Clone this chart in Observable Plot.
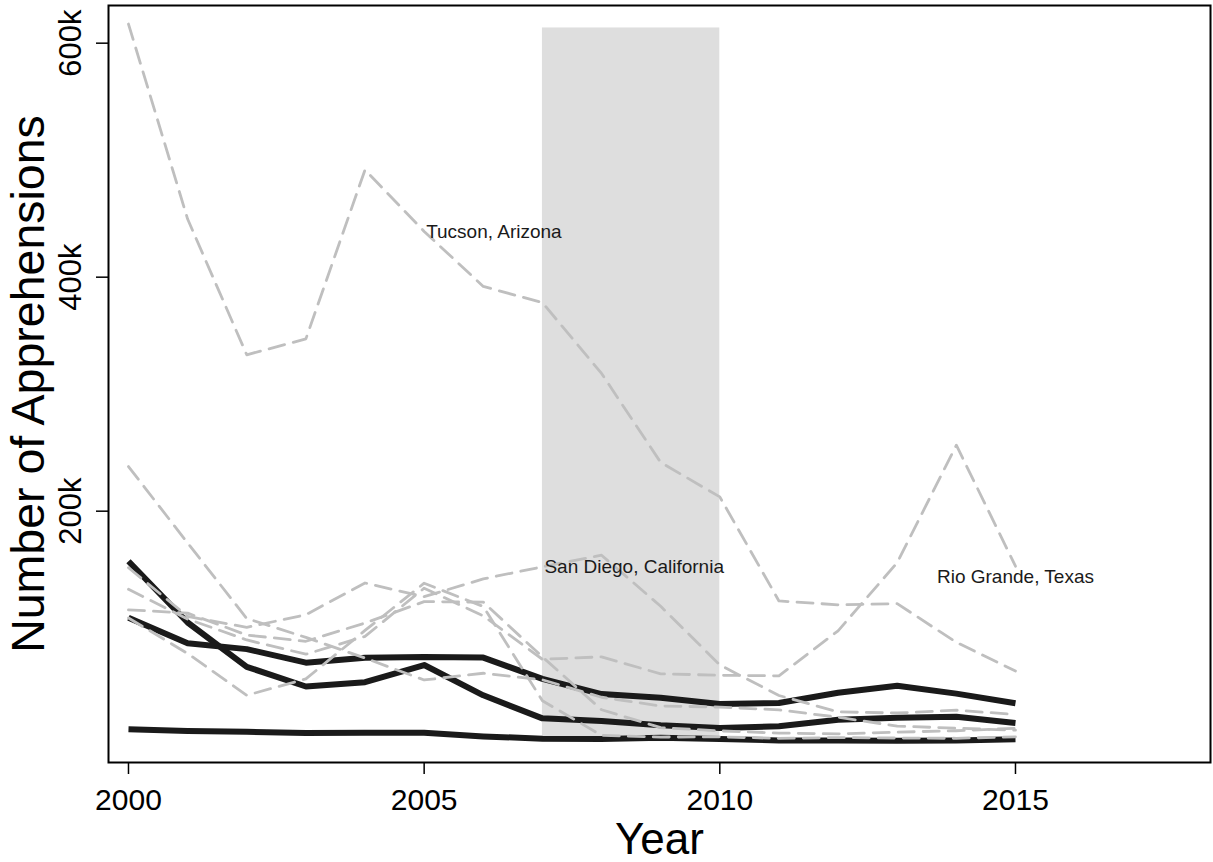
<!DOCTYPE html>
<html>
<head>
<meta charset="utf-8">
<script src="https://cdn.jsdelivr.net/npm/d3@7"></script>
<script src="https://cdn.jsdelivr.net/npm/@observablehq/plot@0.6"></script>
<style>
  html, body { margin: 0; padding: 0; background: #fff; }
  #chart svg { display: block; }
</style>
</head>
<body>
<div id="chart"></div>
<script>
// Border Patrol apprehensions by sector, fiscal years 2000–2015
const years = [2000, 2001, 2002, 2003, 2004, 2005, 2006, 2007, 2008, 2009, 2010, 2011, 2012, 2013, 2014, 2015];

// Sectors drawn as solid black lines
const delRio  = [157178, 104875, 66985, 50145, 53794, 68510, 42634, 22920, 20761, 17082, 14694, 16144, 21720, 23510, 24255, 19013];
const laredo  = [108973, 87068, 82095, 70521, 74706, 75342, 74843, 56715, 43659, 40571, 35287, 36053, 44872, 50749, 44049, 35888];
const bigBend = [13689, 12087, 11392, 10319, 10530, 10536, 7517, 5536, 5390, 6357, 5288, 4036, 3964, 3684, 4096, 5031];

// Sectors drawn as grey dashed lines
const sanDiego  = [151681, 110075, 100681, 111515, 138608, 126909, 142122, 152460, 162390, 118721, 68565, 42447, 28461, 27496, 29911, 26290];
const elCentro  = [238126, 172852, 108273, 92099, 74467, 55726, 61469, 55883, 40961, 33521, 32562, 30191, 23916, 16306, 14511, 12820];
const yuma      = [108747, 78385, 42654, 56638, 98060, 138438, 118537, 37992, 8363, 6952, 7116, 5833, 6500, 6106, 5902, 7142];
const tucson    = [616346, 449675, 333648, 347263, 491771, 439090, 392104, 378239, 317696, 241673, 212202, 123285, 120000, 120939, 87915, 63397];
const elPaso    = [115696, 112857, 94154, 88816, 104399, 122689, 122261, 75464, 30312, 14999, 12251, 10345, 9678, 11154, 12339, 14495];
const rioGrande = [133243, 107844, 89927, 77749, 92947, 134188, 110528, 73430, 75476, 60989, 59766, 59243, 97762, 156000, 256393, 153000];

// Shaded period
const shadeStart = 2007, shadeEnd = 2010, shadeLow = 3000, shadeHigh = 613000;

// Axis ticks
const xTicks = [2000, 2005, 2010, 2015];
const yTicks = [200000, 400000, 600000];

// Annotated sectors
const labelNames  = ["Tucson, Arizona", "San Diego, California", "Rio Grande, Texas"];
const labelSeries = [tucson, sanDiego, rioGrande];
const labelYears  = [2005, 2007, 2015];

const toRows = (series) => Object.entries(series).flatMap(([name, vals]) =>
  vals.map((v, i) => ({sector: name, year: years[i], value: v})));

const blackRows = toRows({delRio, laredo, bigBend});
const grayRows  = toRows({sanDiego, elCentro, yuma, tucson, elPaso, rioGrande});

const labels = labelNames.map((name, i) => ({
  name,
  year: labelYears[i],
  value: labelSeries[i][years.indexOf(labelYears[i])]
}));

const font = "'Liberation Sans', Arial, Helvetica, sans-serif";

const chart = Plot.plot({
  width: 1213,
  height: 862,
  marginLeft: 108,
  marginRight: 3,
  marginTop: 5,
  marginBottom: 100,
  style: {fontFamily: font, background: "#fff", color: "#000"},
  x: {domain: [1999.662, 2018.298]},
  y: {domain: [-14800, 632200]},
  marks: [
    Plot.rect([{x1: shadeStart, x2: shadeEnd, y1: shadeLow, y2: shadeHigh}],
      {x1: "x1", x2: "x2", y1: "y1", y2: "y2", fill: "#dedede"}),
    Plot.line(blackRows, {x: "year", y: "value", z: "sector", stroke: "#1a1a1a",
      strokeWidth: 6, strokeLinejoin: "round", strokeLinecap: "butt"}),
    Plot.line(grayRows, {x: "year", y: "value", z: "sector", stroke: "#bfbfbf",
      strokeWidth: 2.8, strokeDasharray: "16,9", strokeLinejoin: "round"}),
    // Sector annotations
    Plot.text(labels.filter(d => d.name !== "Rio Grande, Texas"),
      {x: "year", y: "value", text: "name", textAnchor: "start", dx: 2,
       fontSize: 19, fill: "#1a1a1a"}),
    Plot.text(labels.filter(d => d.name === "Rio Grande, Texas"),
      {x: "year", y: "value", text: "name", textAnchor: "middle", lineAnchor: "top", dy: 3,
       fontSize: 19, fill: "#1a1a1a"}),
    Plot.frame({stroke: "#000", strokeWidth: 2}),
    Plot.axisX({ticks: xTicks, tickFormat: d => String(d), tickSize: 12, tickPadding: 14,
      fontSize: 30, strokeWidth: 1.5, label: null}),
    Plot.axisY({ticks: yTicks, tickSize: 12, tickFormat: () => "", strokeWidth: 1.5, label: null}),
    Plot.text(yTicks, {y: d => d, text: d => d / 1000 + "k", frameAnchor: "left",
      textAnchor: "middle", lineAnchor: "middle",
      rotate: -90, dx: -37, fontSize: 31, fill: "#000"}),
    Plot.text(["Year"], {text: d => d, frameAnchor: "bottom", textAnchor: "middle",
      lineAnchor: "middle", dy: 77, fontSize: 44, fill: "#000"}),
    Plot.text(["Number of Apprehensions"], {text: d => d, frameAnchor: "left",
      textAnchor: "middle", lineAnchor: "middle", rotate: -90,
      dx: -79, fontSize: 46.5, fill: "#000"})
  ]
});

document.getElementById("chart").appendChild(chart);
</script>
</body>
</html>
